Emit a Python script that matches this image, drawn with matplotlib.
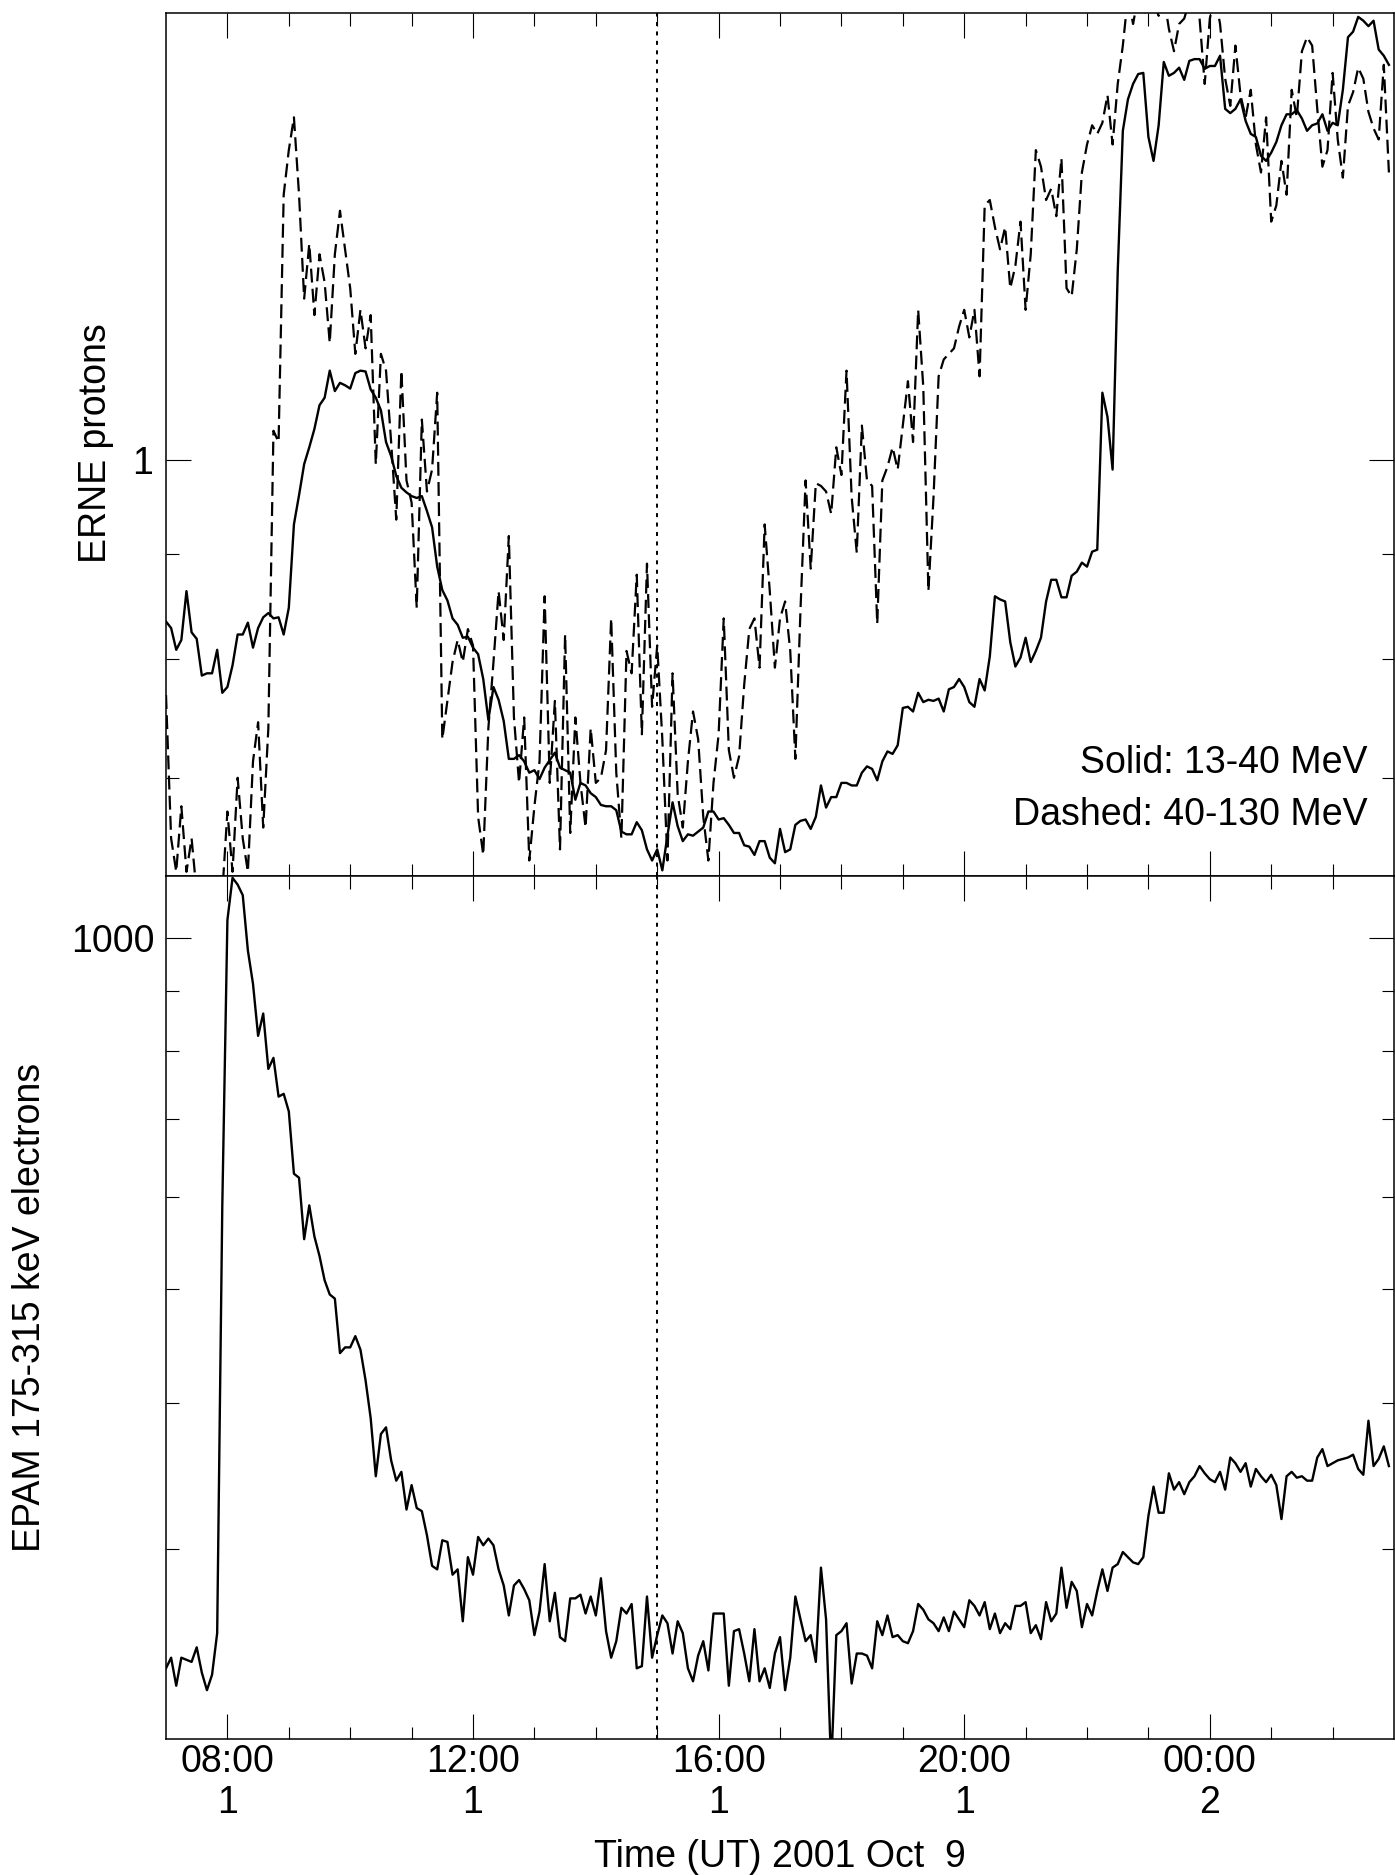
import numpy as np
import matplotlib
matplotlib.use('Agg')
import matplotlib.pyplot as plt
from matplotlib.ticker import FixedLocator, FixedFormatter, NullFormatter

plt.rcParams['font.family'] = ['Liberation Sans', 'DejaVu Sans']
plt.rcParams['lines.scale_dashes'] = False

# ---------------- data (5-minute samples starting 07:00 UT, Oct 1) ----------------
sample_minutes = 5
start_hour = 7

erne_13_40 = [
    0.834, 0.828, 0.808, 0.817, 0.863, 0.824, 0.818, 0.785, 0.787, 0.787,
    0.808, 0.770, 0.775, 0.794, 0.822, 0.822, 0.833, 0.810, 0.828, 0.838,
    0.842, 0.837, 0.838, 0.822, 0.847, 0.930, 0.961, 0.995, 1.014, 1.035,
    1.063, 1.072, 1.105, 1.080, 1.090, 1.087, 1.083, 1.102, 1.105, 1.104,
    1.082, 1.072, 1.057, 1.020, 1.004, 0.982, 0.969, 0.964, 0.960, 0.958,
    0.960, 0.944, 0.927, 0.887, 0.864, 0.854, 0.837, 0.831, 0.819, 0.820,
    0.810, 0.804, 0.782, 0.747, 0.775, 0.764, 0.746, 0.715, 0.715, 0.718,
    0.713, 0.704, 0.706, 0.699, 0.708, 0.714, 0.720, 0.708, 0.706, 0.704,
    0.683,
    0.696, 0.694, 0.688, 0.685, 0.679, 0.678, 0.678, 0.675, 0.659, 0.657,
    0.657, 0.666, 0.660, 0.646, 0.638, 0.646, 0.631, 0.656, 0.681, 0.663,
    0.652, 0.657, 0.656, 0.659, 0.662, 0.674, 0.674, 0.668, 0.669, 0.664,
    0.658, 0.658, 0.649, 0.648, 0.642, 0.652, 0.652, 0.640, 0.636, 0.661,
    0.644, 0.646, 0.664, 0.667, 0.668, 0.661, 0.670, 0.694, 0.677, 0.685,
    0.685, 0.696, 0.696, 0.694, 0.694, 0.704, 0.709, 0.707, 0.698, 0.713,
    0.721, 0.719, 0.726, 0.757, 0.758, 0.754, 0.770, 0.762, 0.764, 0.763,
    0.765, 0.754, 0.773, 0.775, 0.782, 0.775, 0.762, 0.758, 0.782, 0.772,
    0.802, 0.858, 0.855, 0.853, 0.815, 0.793, 0.801, 0.819, 0.797, 0.807,
    0.819, 0.853, 0.874, 0.874, 0.857, 0.857, 0.878, 0.882, 0.891, 0.887,
    0.902, 0.904, 1.078, 1.049, 0.989, 1.235, 1.446, 1.498, 1.524, 1.541,
    1.543, 1.436, 1.398, 1.455, 1.562, 1.538, 1.543, 1.552, 1.531, 1.564,
    1.567, 1.567, 1.550, 1.555, 1.555, 1.573, 1.482, 1.475, 1.482, 1.498,
    1.462, 1.441, 1.436, 1.406, 1.398, 1.411, 1.428, 1.455, 1.473, 1.473,
    1.480, 1.466, 1.446, 1.455, 1.458, 1.473, 1.446, 1.459, 1.455, 1.514,
    1.606, 1.616, 1.643, 1.636, 1.626, 1.636, 1.584, 1.573, 1.557,
]

erne_40_130 = [
    0.768, 0.654, 0.630, 0.678, 0.630, 0.654, 0.615, 0.596, 0.600, 0.596,
    0.607, 0.615, 0.674, 0.630, 0.700, 0.654, 0.630, 0.713, 0.745, 0.662,
    0.740, 1.033, 1.020, 1.346, 1.415, 1.468, 1.346, 1.198, 1.274, 1.176,
    1.259, 1.220, 1.140, 1.259, 1.322, 1.266, 1.212, 1.126, 1.183, 1.133,
    1.176, 0.995, 1.126, 1.105, 1.020, 0.935, 1.105, 0.977, 0.953, 0.847,
    1.046, 0.965, 0.989, 1.078, 0.731, 0.763, 0.797, 0.817, 0.797, 0.827,
    0.812, 0.670, 0.642, 0.740, 0.797, 0.863, 0.817, 0.918, 0.749, 0.696,
    0.749, 0.638, 0.678, 0.713, 0.858, 0.696, 0.763, 0.646, 0.822, 0.658,
    0.749,
    0.696, 0.662, 0.740, 0.696, 0.700, 0.722, 0.837, 0.704, 0.654, 0.807,
    0.787, 0.879, 0.735, 0.890, 0.758, 0.812, 0.731, 0.638, 0.787, 0.687,
    0.662, 0.713, 0.754, 0.731, 0.670, 0.638, 0.696, 0.735, 0.837, 0.722,
    0.700, 0.717, 0.777, 0.827, 0.837, 0.792, 0.930, 0.863, 0.792, 0.837,
    0.853, 0.807, 0.715, 0.845, 0.977, 0.885, 0.974, 0.971, 0.965, 0.941,
    1.014, 0.983, 1.105, 0.959, 0.901, 1.039, 0.977, 0.971, 0.832, 0.977,
    0.992, 1.014, 0.989, 1.039, 1.092, 1.020, 1.183, 1.085, 0.863, 0.959,
    1.098, 1.119, 1.126, 1.133, 1.161, 1.183, 1.147, 1.183, 1.098, 1.330,
    1.338, 1.298, 1.266, 1.298, 1.212, 1.243, 1.306, 1.183, 1.259, 1.415,
    1.389, 1.338, 1.355, 1.314, 1.402, 1.212, 1.201, 1.266, 1.380, 1.424,
    1.455, 1.441, 1.459, 1.505, 1.424, 1.524, 1.591, 1.682, 1.630, 1.682,
    1.645, 1.672, 1.672, 1.645, 1.682, 1.621, 1.581, 1.630, 1.640, 1.672,
    1.682, 1.640, 1.524, 1.640, 1.682, 1.630, 1.533, 1.487, 1.591, 1.505,
    1.468, 1.514, 1.424, 1.380, 1.468, 1.306, 1.330, 1.398, 1.346, 1.514,
    1.468, 1.581, 1.606, 1.591, 1.482, 1.389, 1.415, 1.543, 1.432, 1.372,
    1.487, 1.510, 1.552, 1.533, 1.477, 1.450, 1.432, 1.557, 1.380,
]

epam_175_315 = [
    237, 242, 229, 242, 241, 240, 247, 235, 227, 234,
    254, 589, 1035, 1125, 1110, 1087, 975, 913, 824, 861,
    772, 789, 731, 735, 710, 628, 623, 552, 590, 555,
    534, 509, 495, 491, 441, 446, 446, 456, 444, 418,
    388, 346, 376, 381, 357, 343, 349, 324, 340, 325,
    323, 308, 290, 288, 305, 304, 285, 288, 260, 295,
    285, 307, 302, 306, 302, 288, 279, 263, 279, 282,
    277, 271, 253, 265, 291, 260, 275, 252, 250, 272,
    272, 274, 264, 273, 263, 283, 255, 242, 250, 267,
    264, 269, 237, 238, 273, 242, 253, 263, 259, 244,
    260, 254, 237, 231, 243, 250, 236, 264, 264, 264,
    229, 255, 256, 244, 231, 256, 231, 237, 228, 244,
    252, 227, 242, 273, 261, 250, 253, 240, 289, 261,
    195, 253, 255, 259, 230, 244, 244, 243, 237, 260,
    253, 263, 252, 253, 250, 249, 255, 269, 266, 261,
    259, 255, 262, 255, 265, 261, 257, 271, 268, 263,
    270, 256, 264, 254, 259, 256, 268, 268, 270, 254,
    258, 251, 270, 260, 264, 289, 267, 281, 276, 257,
    269, 263, 276, 288, 276, 289, 291, 298, 295, 292,
    291, 295, 320, 339, 322, 322, 348, 337, 342, 334,
    342, 346, 353, 348, 344, 342, 349, 337, 359, 355,
    349, 355, 339, 351, 346, 342, 347, 340, 318, 346,
    349, 345, 346, 343, 343, 359, 365, 353, 355, 357,
    358, 359, 361, 351, 347, 386, 353, 358, 367, 353,
]

x_major_hours = [8, 12, 16, 20, 24]
x_major_labels = ['08:00\n1', '12:00\n1', '16:00\n1', '20:00\n1', '00:00\n2']
x_minor_hours = [9, 10, 11, 13, 14, 15, 17, 18, 19, 21, 22, 23, 25, 26]
x_range = (7, 27)
marker_hour = 15

erne_major = [1]
erne_major_labels = ['1']
erne_minor = [0.7, 0.8, 0.9]
erne_range = (0.627, 1.651)

epam_major = [1000]
epam_major_labels = ['1000']
epam_minor = [300, 400, 500, 600, 700, 800, 900]
epam_range = (206, 1129)

# ---------------- figure ----------------
t_erne = start_hour + np.arange(len(erne_13_40)) * sample_minutes / 60.0
t_epam = start_hour + np.arange(len(epam_175_315)) * sample_minutes / 60.0

FS = 27
fig = plt.figure(figsize=(13.95, 18.75), dpi=100)
ax1 = fig.add_axes([0.119, 0.5328, 0.8803, 0.4605])
ax2 = fig.add_axes([0.119, 0.0723, 0.8803, 0.4605])

ax1.plot(t_erne, erne_40_130, color='k', lw=1.6, dashes=(10, 4.5))
ax1.plot(t_erne, erne_13_40, color='k', lw=1.7)
ax2.plot(t_epam, epam_175_315, color='k', lw=1.7)

for ax in (ax1, ax2):
    ax.set_yscale('log')
    ax.set_xlim(*x_range)
    ax.xaxis.set_major_locator(FixedLocator(x_major_hours))
    ax.xaxis.set_minor_locator(FixedLocator(x_minor_hours))
    ax.axvline(marker_hour, color='k', lw=1.4, linestyle=(0, (2.9, 3.9)))
    for s in ax.spines.values():
        s.set_linewidth(1.1)
    ax.tick_params(which='major', direction='in', length=18, width=0.8,
                   top=True, right=True, labelsize=FS)
    ax.tick_params(which='minor', direction='in', length=9, width=0.8,
                   top=True, right=True)

ax1.set_ylim(*erne_range)
ax1.yaxis.set_major_locator(FixedLocator(erne_major))
ax1.yaxis.set_major_formatter(FixedFormatter(erne_major_labels))
ax1.yaxis.set_minor_locator(FixedLocator(erne_minor))
ax1.yaxis.set_minor_formatter(NullFormatter())
ax1.tick_params(axis='x', which='both', labelbottom=False)
ax1.tick_params(axis='y', which='major', pad=9.5)

ax2.set_ylim(*epam_range)
ax2.yaxis.set_major_locator(FixedLocator(epam_major))
ax2.yaxis.set_major_formatter(FixedFormatter(epam_major_labels))
ax2.yaxis.set_minor_locator(FixedLocator(epam_minor))
ax2.yaxis.set_minor_formatter(NullFormatter())
ax2.xaxis.set_major_formatter(FixedFormatter(x_major_labels))
ax2.tick_params(axis='y', which='major', pad=8)
ax2.tick_params(axis='x', which='major', pad=3.6)
for lab in ax2.get_xticklabels():
    lab.set_linespacing(1.15)

ax1.text(0.9788, 0.1193, 'Solid: 13-40 MeV', transform=ax1.transAxes,
         ha='right', va='baseline', fontsize=FS)
ax1.text(0.9788, 0.0591, 'Dashed: 40-130 MeV', transform=ax1.transAxes,
         ha='right', va='baseline', fontsize=FS)

fig.text(96 / 1395, 1 - 443 / 1875, 'ERNE protons', rotation=90,
         ha='center', va='center', fontsize=FS)
fig.text(30.5 / 1395, 1 - 1307 / 1875, 'EPAM 175-315 keV electrons',
         rotation=90, ha='center', va='center', fontsize=FS)
fig.text(780 / 1395, 1 - 1867 / 1875, 'Time (UT) 2001 Oct  9',
         ha='center', va='baseline', fontsize=FS)

fig.savefig('out.png', dpi=100)
